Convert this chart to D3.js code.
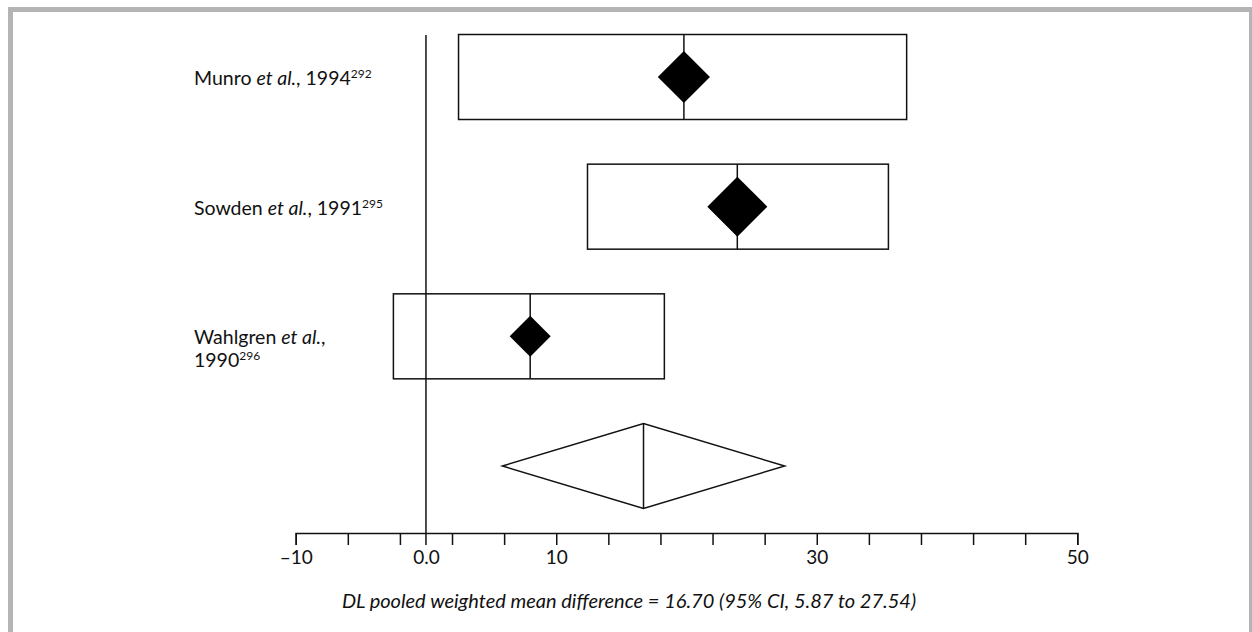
<!DOCTYPE html>
<html>
<head>
<meta charset="utf-8">
<script src="https://cdn.jsdelivr.net/npm/d3@7"></script>
<style>
  body { margin: 0; background: #fff; }
  text { font-family: "Lato", "DejaVu Sans", sans-serif; fill: #111; }
</style>
</head>
<body>
<div id="chart"></div>
<script>
// study data
var authors = ["Munro", "Sowden", "Wahlgren"];
var years = ["1994", "1991", "1990"];
var refs = ["292", "295", "296"];
var means = [19.8, 23.9, 8.0];
var ciLow = [2.5, 12.4, -2.5];
var ciHigh = [36.9, 35.5, 18.3];
var weights = [34, 45, 21];

// pooled estimate
var pooledMean = 16.70, pooledLow = 5.87, pooledHigh = 27.54;

var tickValues = d3.range(-10, 51, 4);
var labelValues = [-10, 0, 10, 30, 50];

var W = 1252, H = 632;

var svg = d3.select("#chart")
    .append("svg")
    .attr("width", W)
    .attr("height", H);

// grey frame
svg.append("rect").attr("x", 8).attr("y", 7).attr("width", 5).attr("height", H).attr("fill", "#b4b4b4");
svg.append("rect").attr("x", 8).attr("y", 7).attr("width", W).attr("height", 5).attr("fill", "#b4b4b4");
svg.append("rect").attr("x", 1249).attr("y", 7).attr("width", 5).attr("height", H).attr("fill", "#b4b4b4");

var x = d3.scaleLinear()
    .domain([-10, 50])
    .range([295.7, 1077.3]);

var rows = authors.concat(["pooled"]);
var y = d3.scalePoint()
    .domain(rows)
    .range([77, 466]);

var boxH = 85;
var size = d3.scaleSqrt().domain([0, 45]).range([0, 30]);

var axisY = 533;

// zero line
svg.append("line")
    .attr("x1", x(0)).attr("x2", x(0))
    .attr("y1", 35).attr("y2", axisY + 12)
    .attr("stroke", "#111").attr("stroke-width", 1.5);

var data = authors.map(function(a, i) {
    return {author: a, year: years[i], ref: refs[i], mean: means[i],
            lo: ciLow[i], hi: ciHigh[i], w: weights[i]};
});

// CI boxes
svg.selectAll("rect.ci")
    .data(data)
    .enter()
    .append("rect")
    .attr("class", "ci")
    .attr("x", function(d) { return x(d.lo); })
    .attr("y", function(d) { return y(d.author) - boxH / 2; })
    .attr("width", function(d) { return x(d.hi) - x(d.lo); })
    .attr("height", boxH)
    .attr("fill", "none")
    .attr("stroke", "#111")
    .attr("stroke-width", 1.5);

// vertical line at estimate
svg.selectAll("line.est")
    .data(data)
    .enter()
    .append("line")
    .attr("class", "est")
    .attr("x1", function(d) { return x(d.mean); })
    .attr("x2", function(d) { return x(d.mean); })
    .attr("y1", function(d) { return y(d.author) - boxH / 2; })
    .attr("y2", function(d) { return y(d.author) + boxH / 2; })
    .attr("stroke", "#111")
    .attr("stroke-width", 1.5);

// weighted diamonds
svg.selectAll("path.pt")
    .data(data)
    .enter()
    .append("path")
    .attr("class", "pt")
    .attr("d", function(d) {
        var cx = x(d.mean), cy = y(d.author), r = size(d.w);
        return "M" + (cx - r) + "," + cy + "L" + cx + "," + (cy - r) +
               "L" + (cx + r) + "," + cy + "L" + cx + "," + (cy + r) + "Z";
    })
    .attr("fill", "#000");

// pooled diamond
var py = y("pooled");
svg.append("path")
    .attr("d", "M" + x(pooledLow) + "," + py + "L" + x(pooledMean) + "," + (py - boxH / 2) +
               "L" + x(pooledHigh) + "," + py + "L" + x(pooledMean) + "," + (py + boxH / 2) + "Z")
    .attr("fill", "none")
    .attr("stroke", "#111")
    .attr("stroke-width", 1.5);
svg.append("line")
    .attr("x1", x(pooledMean)).attr("x2", x(pooledMean))
    .attr("y1", py - boxH / 2).attr("y2", py + boxH / 2)
    .attr("stroke", "#111").attr("stroke-width", 1.5);

// study labels
var lx = 194;
data.forEach(function(d, i) {
    var t = svg.append("text")
        .attr("x", lx)
        .attr("y", y(d.author) + 8)
        .style("font-size", "19.5px");
    t.append("tspan").text(d.author + " ");
    t.append("tspan").style("font-style", "italic").text("et al.");
    t.append("tspan").text(",");
    if (i === 2) {
        t.append("tspan").attr("x", lx).attr("dy", 23).text(d.year);
    } else {
        t.append("tspan").text(" " + d.year);
    }
    t.append("tspan").attr("dy", -7).style("font-size", "12px").text(d.ref);
});

// axis ticks
svg.append("g")
    .attr("transform", "translate(0," + axisY + ")")
    .call(d3.axisBottom(x).tickValues(tickValues).tickSize(12).tickSizeOuter(12).tickFormat(""))
    .call(function(g) {
        g.selectAll("line, path").attr("stroke", "#111").attr("stroke-width", 1.5);
    });

// axis labels
svg.append("g")
    .attr("transform", "translate(0," + axisY + ")")
    .call(d3.axisBottom(x).tickValues(labelValues).tickSize(0).tickPadding(18)
        .tickFormat(function(d) { return d === 0 ? "0.0" : (d < 0 ? "\u2013" + Math.abs(d) : d); }))
    .call(function(g) {
        g.select(".domain").remove();
        g.selectAll("text").style("font-size", "19px").attr("fill", "#111")
            .style("font-family", "Lato, sans-serif");
    });

// caption
svg.append("text")
    .attr("x", 629)
    .attr("y", 608)
    .attr("text-anchor", "middle")
    .style("font-size", "20px")
    .style("font-style", "italic")
    .text("DL pooled weighted mean difference = 16.70 (95% CI, 5.87 to 27.54)");
</script>
</body>
</html>
